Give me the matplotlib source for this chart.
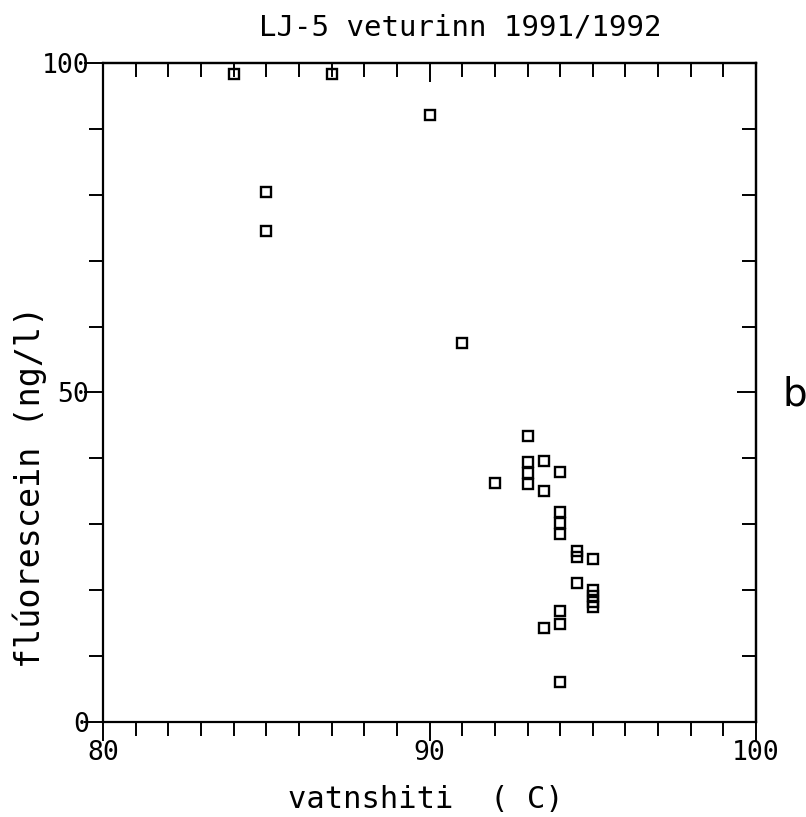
import matplotlib.pyplot as plt
from matplotlib.ticker import MultipleLocator

# water temperature (C) and fluorescein (ng/l), LJ-5 winter 1991/1992
temp = [84, 87, 90, 85, 85, 91,
        93, 93, 93.5, 93, 94, 92, 93, 93.5,
        94, 94, 94, 94.5, 94.5, 95, 94.5,
        95, 95, 95, 95, 94, 94, 93.5, 94]
fluor = [98.3, 98.3, 92.1, 80.4, 74.5, 57.5,
         43.4, 39.5, 39.6, 37.8, 38.0, 36.2, 36.1, 35.0,
         31.9, 30.2, 28.5, 25.9, 25.0, 24.7, 21.1,
         20.1, 19.1, 18.2, 17.4, 16.9, 14.9, 14.2, 6.0]

xticks = [80, 90, 100]
yticks = [0, 50, 100]

mono = "DejaVu Sans Mono"

fig = plt.figure(figsize=(8.06, 8.17), dpi=100)
ax = fig.add_axes([0.1278, 0.1163, 0.8103, 0.8066])

ax.plot(temp, fluor, linestyle="none", marker="s", markersize=7.5,
        markerfacecolor="none", markeredgecolor="black", markeredgewidth=1.7)

ax.set_xlim(80, 100)
ax.set_ylim(0, 100)
ax.set_xticks(xticks)
ax.set_yticks(yticks)
ax.xaxis.set_minor_locator(MultipleLocator(1))
ax.yaxis.set_minor_locator(MultipleLocator(10))

for s in ax.spines.values():
    s.set_linewidth(1.6)

ax.tick_params(axis="both", which="major", direction="out", length=14, width=1.4,
               labelsize=19)
ax.tick_params(axis="x", which="major", pad=-1)
ax.tick_params(axis="y", which="major", pad=-4)
ax.tick_params(axis="both", which="minor", direction="out", length=10, width=1.4)
for lab in ax.get_xticklabels() + ax.get_yticklabels():
    lab.set_family(mono)

# top and right ticks point inwards
top = ax.secondary_xaxis("top")
top.set_xticks(xticks)
top.xaxis.set_minor_locator(MultipleLocator(1))
top.tick_params(which="major", direction="in", length=14, width=1.4, labeltop=False)
top.tick_params(which="minor", direction="in", length=10, width=1.4)
top.spines["top"].set_linewidth(1.6)

right = ax.secondary_yaxis("right")
right.set_yticks(yticks)
right.yaxis.set_minor_locator(MultipleLocator(10))
right.tick_params(which="major", direction="in", length=14, width=1.4, labelright=False)
right.tick_params(which="minor", direction="in", length=10, width=1.4)
right.spines["right"].set_linewidth(1.6)

fig.text(460 / 806, 1 - 28 / 817, "LJ-5 veturinn 1991/1992", family=mono,
         fontsize=21, ha="center", va="center")
fig.text(426 / 806, 1 - 800 / 817, "vatnshiti  ( C)", family=mono,
         fontsize=22, ha="center", va="center")
fig.text(30 / 806, 1 - 487 / 817, "flúorescein (ng/l)", family=mono,
         fontsize=24, ha="center", va="center", rotation=90)
fig.text(795 / 806, 1 - 395 / 817, "b", family="DejaVu Sans",
         fontsize=28, ha="center", va="center")

fig.savefig("out.png", dpi=100)
